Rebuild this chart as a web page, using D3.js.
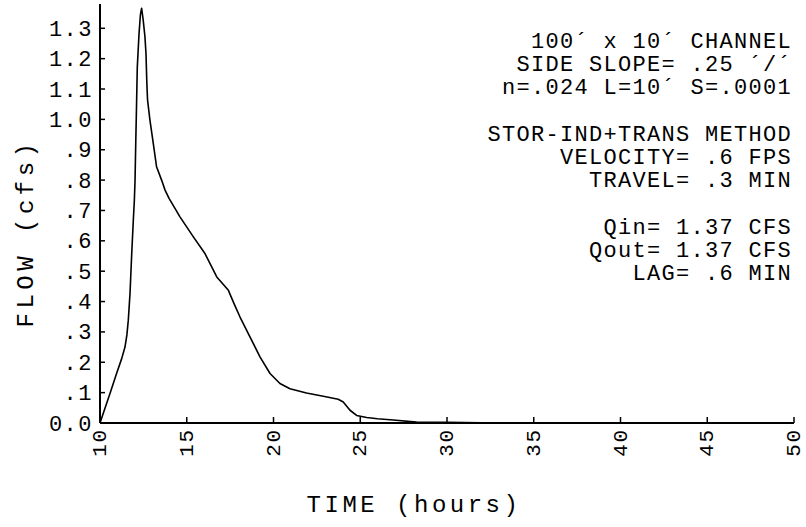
<!DOCTYPE html>
<html>
<head>
<meta charset="utf-8">
<script src="https://cdn.jsdelivr.net/npm/d3@7"></script>
<style>
  html, body { margin: 0; padding: 0; background: #fff; }
  svg { display: block; }
  text { font-family: "Liberation Mono", "DejaVu Sans Mono", monospace; fill: #000; }
</style>
</head>
<body>
<svg id="chart" width="806" height="527"></svg>
<script>
// ---- data ----
const timeHours = [10.0, 10.19, 10.58, 10.96, 11.25, 11.44, 11.55, 11.63, 11.73, 11.83, 11.92, 11.98, 12.02, 12.06, 12.10, 12.15, 12.25, 12.33, 12.40, 12.49, 12.59, 12.65, 12.70, 12.74, 12.88, 13.07, 13.26, 13.55, 13.75, 13.98, 14.61, 15.38, 16.05, 16.73, 17.4, 17.75, 18.07, 18.65, 19.22, 19.8, 20.37, 20.95, 21.9, 22.87, 23.73, 24.02, 24.41, 24.79, 25.37, 26.0, 26.9, 28.25, 30.0, 32.0, 34.0, 36.0, 38.5];
const flowCfs = [0.0, 0.032, 0.098, 0.164, 0.212, 0.25, 0.29, 0.338, 0.427, 0.56, 0.668, 0.733, 0.80, 0.921, 1.03, 1.173, 1.283, 1.345, 1.366, 1.327, 1.272, 1.218, 1.12, 1.064, 0.997, 0.921, 0.844, 0.80, 0.767, 0.74, 0.679, 0.613, 0.558, 0.481, 0.437, 0.39, 0.349, 0.283, 0.218, 0.163, 0.13, 0.113, 0.099, 0.088, 0.078, 0.069, 0.042, 0.025, 0.018, 0.014, 0.010, 0.003, 0.002, 0.001, 0.001, 0.0005, 0.0];
const xTicks = [10, 15, 20, 25, 30, 35, 40, 45, 50];
const xTickLabels = ["10", "15", "20", "25", "30", "35", "40", "45", "50"];
const yTicks = [0, 0.1, 0.2, 0.3, 0.4, 0.5, 0.6, 0.7, 0.8, 0.9, 1.0, 1.1, 1.2, 1.3];
const yTickLabels = ["0.0", ".1", ".2", ".3", ".4", ".5", ".6", ".7", ".8", ".9", "1.0", "1.1", "1.2", "1.3"];
const notes = [
  "100\u00B4 x 10\u00B4 CHANNEL",
  "SIDE SLOPE= .25 \u00B4/\u00B4",
  "n=.024 L=10\u00B4 S=.0001",
  "",
  "STOR-IND+TRANS METHOD",
  "VELOCITY= .6 FPS",
  "TRAVEL= .3 MIN",
  "",
  "Qin= 1.37 CFS",
  "Qout= 1.37 CFS",
  "LAG= .6 MIN"
];
const xTitle = "TIME (hours)";
const yTitle = "FLOW (cfs)";

// ---- layout ----
const svg = d3.select("#chart");
const mLeft = 100, mRight = 794, mBottom = 423, mTop = 4;
const x = d3.scaleLinear().domain([10, 50]).range([mLeft, mRight]);
const y = d3.scaleLinear().domain([0, 1.38]).range([mBottom, mTop]);

// axes lines
svg.append("line").attr("x1", mLeft).attr("x2", mLeft).attr("y1", mTop).attr("y2", mBottom)
  .attr("stroke", "#000").attr("stroke-width", 2);
svg.append("line").attr("x1", mLeft).attr("x2", mRight).attr("y1", mBottom).attr("y2", mBottom)
  .attr("stroke", "#000").attr("stroke-width", 2);

// y ticks (inward)
const yg = svg.append("g");
yg.selectAll("line").data(yTicks).join("line")
  .attr("x1", mLeft).attr("x2", mLeft + 5)
  .attr("y1", d => y(d)).attr("y2", d => y(d))
  .attr("stroke", "#000").attr("stroke-width", 1.5);
yg.selectAll("text").data(yTicks).join("text")
  .attr("x", 93).attr("y", d => y(d) + 7.5)
  .attr("text-anchor", "end")
  .attr("font-size", 22).attr("letter-spacing", 1.5)
  .text((d, i) => yTickLabels[i]);

// x ticks (upward)
const xg = svg.append("g");
xg.selectAll("line").data(xTicks).join("line")
  .attr("x1", d => x(d)).attr("x2", d => x(d))
  .attr("y1", mBottom).attr("y2", mBottom - 6)
  .attr("stroke", "#000").attr("stroke-width", 1.5);
xg.selectAll("text").data(xTicks).join("text")
  .attr("transform", d => `translate(${x(d) + 6},${mBottom + 5}) rotate(-90)`)
  .attr("text-anchor", "end")
  .attr("font-size", 21).attr("letter-spacing", 1.8)
  .text((d, i) => xTickLabels[i]);

// curve
const pts = timeHours.map((t, i) => [t, flowCfs[i]]);
svg.append("path").datum(pts)
  .attr("fill", "none").attr("stroke", "#000").attr("stroke-width", 1.6)
  .attr("stroke-linejoin", "round")
  .attr("d", d3.line().x(d => x(d[0])).y(d => y(d[1])));

// annotation block
svg.append("g").selectAll("text").data(notes).join("text")
  .attr("x", 792).attr("y", (d, i) => 48 + i * 23.2)
  .attr("text-anchor", "end")
  .attr("font-size", 22).attr("letter-spacing", 1.3)
  .text(d => d);

// axis titles
svg.append("text").attr("x", 414).attr("y", 512)
  .attr("text-anchor", "middle").attr("font-size", 24).attr("letter-spacing", 3.5)
  .text(xTitle);
svg.append("text").attr("transform", "translate(33,233) rotate(-90)")
  .attr("text-anchor", "middle").attr("font-size", 24).attr("letter-spacing", 4.5)
  .text(yTitle);
</script>
</body>
</html>
